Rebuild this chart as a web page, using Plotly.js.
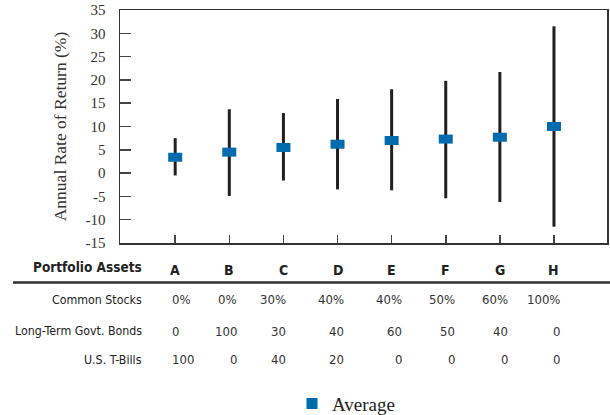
<!DOCTYPE html>
<html>
<head>
<meta charset="utf-8">
<script src="https://cdn.plot.ly/plotly-3.0.1.min.js"></script>
<style>html,body{margin:0;padding:0;background:#fff;}#chart{width:610px;height:415px;}</style>
</head>
<body>
<div id="chart"></div>
<script>
// ---- data ----
var portfolios = ['A', 'B', 'C', 'D', 'E', 'F', 'G', 'H'];
var averageReturn = [3.4, 4.5, 5.5, 6.2, 7.0, 7.3, 7.7, 10.0];
var maxReturn = [7.5, 13.7, 12.9, 15.9, 18.0, 19.8, 21.7, 31.5];
var minReturn = [-0.5, -4.9, -1.6, -3.5, -3.7, -5.4, -6.2, -11.5];
var commonStocks = ['0%', '0%', '30%', '40%', '40%', '50%', '60%', '100%'];
var govtBonds = ['0', '100', '30', '40', '60', '50', '40', '0'];
var tBills = ['100', '0', '40', '20', '0', '0', '0', '0'];
var rowLabels = ['Common Stocks', 'Long-Term Govt. Bonds', 'U.S. T-Bills'];
var headerLabel = 'Portfolio Assets';
var yTickValues = [-15, -10, -5, 0, 5, 10, 15, 20, 25, 30, 35];
var yTickLabels = yTickValues.map(function (v) { return String(v); });

// ---- layout helpers ----
var W = 610, H = 415, ML = 120, MR = 3, MT = 10, MB = 172;
var plotW = W - ML - MR, plotH = H - MT - MB;
function px(x) { return (x - ML) / plotW; }
function py(y) { return (H - MB - y) / plotH; }

var blue = '#006bae';
var dark = '#231f20';
var serif = '"Liberation Serif", "DejaVu Serif", serif';
var narrow = '"Liberation Sans Narrow", "DejaVu Sans Condensed", "Roboto", sans-serif';

var upper = maxReturn.map(function (v, i) { return v - averageReturn[i]; });
var lower = minReturn.map(function (v, i) { return averageReturn[i] - v; });

var traces = [
  {
    type: 'scatter', mode: 'markers',
    x: portfolios, y: averageReturn,
    showlegend: false, hoverinfo: 'skip',
    error_y: { type: 'data', symmetric: false, array: upper, arrayminus: lower,
               width: 0, thickness: 3, color: dark },
    marker: { symbol: 'line-ew', size: 10, color: blue, line: { width: 9, color: blue } }
  },
  {
    type: 'scatter', mode: 'markers', name: 'Average',
    x: [null], y: [null],
    marker: { symbol: 'square', size: 11, color: blue }
  }
];

// table annotations
var annotations = [];
var colShift = [-5, 10, 5, 8.5, 12, 11, 10, 8];
var rowY = [299.7, 331, 359.7];
var rows = [commonStocks, govtBonds, tBills];

annotations.push({ xref: 'paper', yref: 'paper', x: px(144), y: py(267), xanchor: 'right', yanchor: 'middle',
  text: headerLabel, showarrow: false, font: { family: narrow, size: 13.5, color: '#222', weight: 600 } });
portfolios.forEach(function (p) {
  annotations.push({ xref: 'x', yref: 'paper', x: p, y: py(269.5), xanchor: 'center', yanchor: 'middle',
    text: p, showarrow: false, font: { family: narrow, size: 14, color: '#222', weight: 600 } });
});
rowLabels.forEach(function (lab, r) {
  annotations.push({ xref: 'paper', yref: 'paper', x: px(144), y: py(rowY[r]), xanchor: 'right', yanchor: 'middle',
    text: lab, showarrow: false, font: { family: narrow, size: 12.3, color: '#222' } });
  rows[r].forEach(function (val, i) {
    annotations.push({ xref: 'x', yref: 'paper', x: portfolios[i], xshift: colShift[i], y: py(rowY[r]),
      xanchor: i === 0 ? 'left' : 'right', yanchor: 'middle',
      text: val, showarrow: false, font: { family: narrow, size: 13, color: '#333' } });
  });
});

var layout = {
  width: W, height: H,
  margin: { l: ML, r: MR, t: MT, b: MB, pad: 0, autoexpand: false },
  paper_bgcolor: '#fff', plot_bgcolor: '#fff',
  showlegend: true,
  legend: { orientation: 'h', x: px(292), xanchor: 'left', y: py(403.7), yanchor: 'middle',
            font: { family: serif, size: 19, color: '#222' }, bgcolor: 'rgba(0,0,0,0)' },
  xaxis: {
    type: 'category', range: [-1.02, 7.98], showticklabels: false,
    ticks: 'inside', ticklen: 8, tickwidth: 1.5, tickcolor: '#444',
    showline: true, linecolor: '#333', linewidth: 1.5, mirror: true,
    showgrid: false, zeroline: false, fixedrange: true
  },
  yaxis: {
    range: [-15, 35], tickmode: 'array', tickvals: yTickValues, ticktext: yTickLabels,
    ticks: 'inside', ticklen: 11, tickwidth: 1.5, tickcolor: '#444',
    ticklabelstandoff: 10,
    tickfont: { family: serif, size: 15, color: '#333' },
    showline: true, linecolor: '#333', linewidth: 1.5, mirror: true,
    showgrid: false, zeroline: false, automargin: false, fixedrange: true,
    title: { text: 'Annual Rate of Return (%)', standoff: 14,
             font: { family: serif, size: 17.5, color: '#333' } }
  },
  shapes: [
    { type: 'line', xref: 'paper', yref: 'paper', x0: px(13), x1: px(610), y0: py(282.5), y1: py(282.5),
      line: { color: '#333', width: 2.5 } }
  ],
  annotations: annotations
};

Plotly.newPlot('chart', traces, layout, { displayModeBar: false, staticPlot: true });
</script>
</body>
</html>
